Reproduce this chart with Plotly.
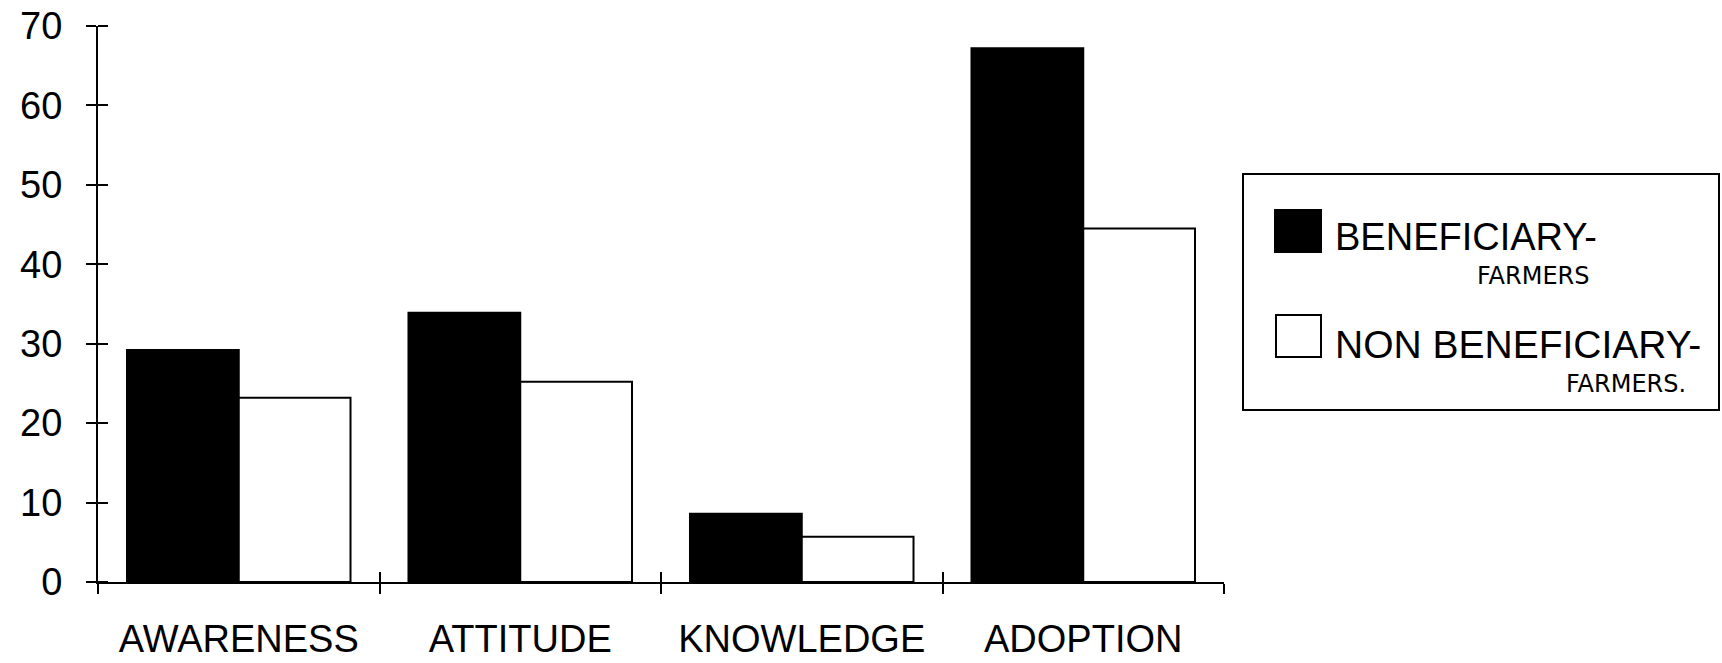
import plotly.graph_objects as go

# ---- data -------------------------------------------------------------
categories = ["AWARENESS", "ATTITUDE", "KNOWLEDGE", "ADOPTION"]
beneficiary = [29.2, 33.9, 8.6, 67.2]
non_beneficiary = [23.2, 25.2, 5.7, 44.5]
legend_main = ["BENEFICIARY-", "NON BENEFICIARY-"]
legend_sub = ["FARMERS", "FARMERS."]
y_ticks = [0, 10, 20, 30, 40, 50, 60, 70]

# ---- page geometry (pixels) --------------------------------------------
W, H = 1722, 663
M_L, M_R, M_T, M_B = 98, 498, 26, 81
PW = W - M_L - M_R
PH = H - M_T - M_B


def px(x):
    """horizontal pixel -> paper fraction"""
    return (x - M_L) / PW


def py(y):
    """vertical pixel (from top) -> paper fraction"""
    return 1 - (y - M_T) / PH


FONT = "Liberation Sans, Arial, Helvetica, sans-serif"
HAND = "DejaVu Sans, Verdana, sans-serif"

fig = go.Figure()
fig.add_trace(go.Bar(
    x=categories, y=beneficiary, name=legend_main[0],
    marker=dict(color="black", line=dict(color="black", width=2)),
    showlegend=False,
))
fig.add_trace(go.Bar(
    x=categories, y=non_beneficiary, name=legend_main[1],
    marker=dict(color="white", line=dict(color="black", width=2)),
    showlegend=False,
))

n = len(categories)
boundaries = [i - 0.5 for i in range(n + 1)]

# transparent carrier trace for the overlay x axis, which supplies the
# upper halves of the cross ticks at the category boundaries
fig.add_trace(go.Scatter(x=boundaries, y=[0] * len(boundaries),
                         mode="markers", marker=dict(opacity=0, size=1),
                         xaxis="x2", yaxis="y",
                         showlegend=False, hoverinfo="skip"))

# inner halves of the y cross ticks: minor ticks nudged off the majors
inner_y = [v + 1e-4 for v in y_ticks]

fig.update_layout(
    width=W, height=H,
    margin=dict(l=M_L, r=M_R, t=M_T, b=M_B, pad=0, autoexpand=False),
    paper_bgcolor="white", plot_bgcolor="white",
    barmode="group", bargap=0.206, bargroupgap=0,
    xaxis=dict(
        type="category", categoryorder="array", categoryarray=categories,
        range=[-0.5, n - 0.5], automargin=False,
        showline=True, linecolor="black", linewidth=2,
        ticks="outside", tickson="boundaries", ticklen=10, tickwidth=2,
        tickcolor="black", showgrid=False, zeroline=False,
        tickfont=dict(family=FONT, size=38, color="black"),
        ticklabelstandoff=22,
    ),
    yaxis=dict(
        range=[0, 70], tickmode="array", tickvals=y_ticks, automargin=False,
        showline=True, linecolor="black", linewidth=2,
        ticks="outside", ticklen=10, tickwidth=2, tickcolor="black",
        showgrid=False, zeroline=False,
        tickfont=dict(family=FONT, size=38, color="black"),
        ticklabelstandoff=16,
        minor=dict(tickmode="array", tickvals=inner_y, ticks="inside",
                   ticklen=10, tickwidth=2, tickcolor="black",
                   showgrid=False),
    ),
    xaxis2=dict(
        visible=True, type="linear",
        overlaying="x", anchor="y", side="bottom",
        range=[-0.5, n - 0.5], automargin=False,
        tickmode="array", tickvals=boundaries,
        ticks="inside", ticklen=10, tickwidth=2, tickcolor="black",
        showticklabels=False, showline=False, showgrid=False, zeroline=False,
    ),
)

# ---- legend panel --------------------------------------------------------
shapes = [
    dict(type="rect", xref="paper", yref="paper",
         x0=px(1243), x1=px(1719), y0=py(410), y1=py(174),
         line=dict(color="black", width=2), fillcolor="white", layer="above"),
    dict(type="rect", xref="paper", yref="paper",
         x0=px(1275), x1=px(1321), y0=py(252), y1=py(210),
         line=dict(color="black", width=2), fillcolor="black", layer="above"),
    dict(type="rect", xref="paper", yref="paper",
         x0=px(1276), x1=px(1321), y0=py(357), y1=py(315),
         line=dict(color="black", width=2), fillcolor="white", layer="above"),
]
fig.update_layout(shapes=shapes)

annotations = [
    dict(text=legend_main[0], x=px(1333), y=py(237), xanchor="left",
         yanchor="middle", font=dict(family=FONT, size=38, color="black")),
    dict(text=legend_sub[0], x=px(1533), y=py(276), xanchor="center",
         yanchor="middle", font=dict(family=HAND, size=24, color="black")),
    dict(text=legend_main[1], x=px(1333), y=py(344), xanchor="left",
         yanchor="middle", font=dict(family=FONT, size=39, color="black")),
    dict(text=legend_sub[1], x=px(1626), y=py(384), xanchor="center",
         yanchor="middle", font=dict(family=HAND, size=24, color="black")),
]
for a in annotations:
    a.update(xref="paper", yref="paper", showarrow=False)
fig.update_layout(annotations=annotations)

fig.write_html("out.html")
